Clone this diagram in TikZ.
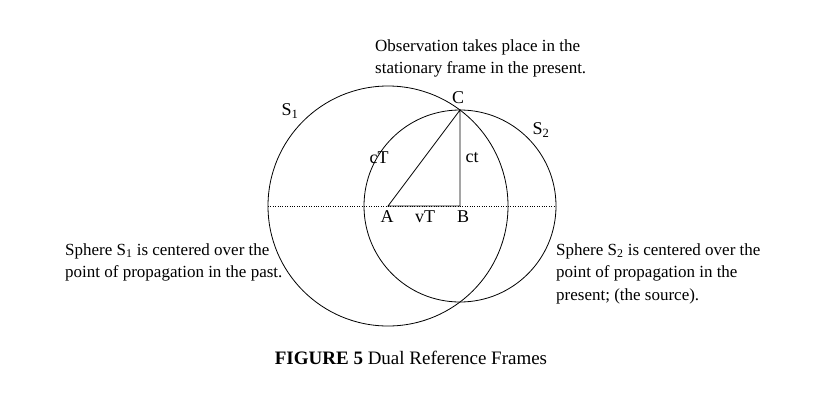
\documentclass[tikz,border=0pt]{standalone}
\usepackage{fontspec}
\setmainfont{Liberation Serif}
\begin{document}
\begin{tikzpicture}[x=1pt,y=-1pt,
  lbl/.style={font=\fontsize{18}{21}\selectfont, inner sep=0pt},
  txt/.style={font=\fontsize{17}{22.5}\selectfont, inner sep=0pt, align=left, anchor=north west},
  circ/.style={draw, line width=0.8pt}]
\useasboundingbox (0,0) rectangle (820,408);
\coordinate (A) at (388,206);
\coordinate (B) at (460,206);
\coordinate (C) at (460,110);
\draw[circ] (A) circle (120);
\draw[circ] (B) circle (96);
\draw[dotted] (268,206) -- (556,206);
\draw[line width=0.8pt] (A) -- (B) -- (C) -- cycle;
\node[lbl] (lc) at (458,98) {C};
\node[lbl] (la) at (387,217) {A};
\node[lbl] (lb) at (463,217) {B};
\node[lbl] (lvt) at (425,217) {vT};
\node[lbl] (lcT) at (379,158) {cT};
\node[lbl] (lct) at (472,158) {ct};
\node[lbl] (s1) at (290,111) {S\textsubscript{1}};
\node[lbl] (s2) at (541,130) {S\textsubscript{2}};
\node[txt] (obs) at (375,39) {Observation takes place in the\\stationary frame in the present.};
\node[txt] (left) at (65,243) {Sphere S\textsubscript{1} is centered over the\\point of propagation in the past.};
\node[txt] (right) at (556,243) {Sphere S\textsubscript{2} is centered over the\\point of propagation in the\\present; (the source).};
\node[font=\fontsize{19}{22}\selectfont, inner sep=0pt] (cap) at (411,358) {\textbf{FIGURE 5} Dual Reference Frames};
\end{tikzpicture}
\end{document}
